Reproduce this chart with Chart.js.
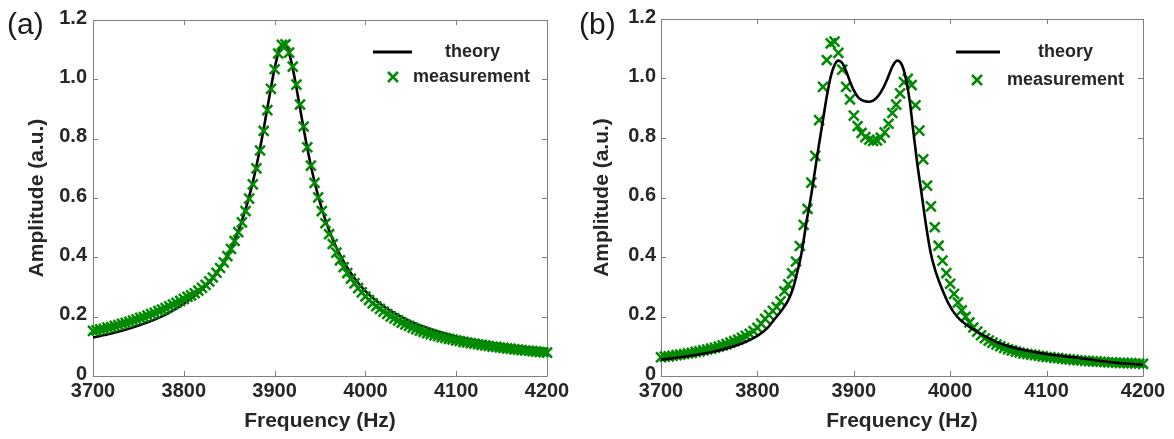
<!DOCTYPE html>
<html>
<head>
<meta charset="utf-8">
<script src="https://cdn.jsdelivr.net/npm/chart.js@4.4.1/dist/chart.umd.min.js"></script>
<style>
  html, body { margin: 0; padding: 0; background: #fff; }
  #wrap { position: relative; width: 1174px; height: 439px; overflow: hidden; }
  canvas { position: absolute; top: 0; }
  #chartA { left: 0; }
  #chartB { left: 580px; }
</style>
</head>
<body>
<div id="wrap">
  <canvas id="chartA" width="580" height="439"></canvas>
  <canvas id="chartB" width="594" height="439"></canvas>
</div>
<script>
// sweep frequencies of the measured points (Hz), same for both panels
const MEAS_FREQ = [
  3700,3704,3708,3712,3716,3720,3724,3728,3732,3736,
  3740,3744,3748,3752,3756,3760,3764,3768,3772,3776,
  3780,3784,3788,3792,3796,3800,3804,3808,3812,3816,
  3820,3824,3828,3832,3836,3840,3844,3848,3852,3856,
  3860,3864,3868,3872,3876,3880,3884,3888,3892,3896,
  3900,3904,3908,3912,3916,3920,3924,3928,3932,3936,
  3940,3944,3948,3952,3956,3960,3964,3968,3972,3976,
  3980,3984,3988,3992,3996,4000,4004,4008,4012,4016,
  4020,4024,4028,4032,4036,4040,4044,4048,4052,4056,
  4060,4064,4068,4072,4076,4080,4084,4088,4092,4096,
  4100,4104,4108,4112,4116,4120,4124,4128,4132,4136,
  4140,4144,4148,4152,4156,4160,4164,4168,4172,4176,
  4180,4184,4188,4192,4196,4200
];

// (a) single resonance
const MEAS_A = [
  0.152,0.154,0.157,0.159,0.163,0.165,0.169,0.172,0.176,0.179,
  0.183,0.187,0.191,0.196,0.199,0.204,0.209,0.213,0.219,0.224,
  0.229,0.235,0.241,0.247,0.253,0.260,0.267,0.272,0.279,0.288,
  0.297,0.307,0.319,0.332,0.348,0.364,0.383,0.404,0.428,0.455,
  0.485,0.518,0.556,0.598,0.646,0.700,0.760,0.826,0.896,0.968,
  1.034,1.087,1.116,1.118,1.090,1.043,0.982,0.915,0.841,0.771,
  0.709,0.651,0.602,0.556,0.515,0.478,0.445,0.416,0.390,0.367,
  0.347,0.328,0.312,0.296,0.282,0.268,0.256,0.245,0.235,0.226,
  0.217,0.209,0.201,0.194,0.187,0.180,0.174,0.169,0.163,0.158,
  0.153,0.149,0.144,0.141,0.137,0.134,0.131,0.128,0.125,0.123,
  0.120,0.118,0.115,0.113,0.111,0.109,0.107,0.105,0.103,0.101,
  0.099,0.098,0.096,0.095,0.093,0.092,0.090,0.089,0.087,0.086,
  0.085,0.084,0.082,0.081,0.080,0.079
];
const THEORY_A_FREQ = [
  3700,3720,3740,3760,3780,3800,3815,3830,3840,3850,3860,3865,3870,3875,3880,
  3885,3890,3895,3900,3905,3910,3915,3920,3925,3930,3935,3940,3945,3950,3955,
  3960,3970,3980,3990,4000,4015,4030,4050,4075,4100,4125,4150,4175,4200
];
const THEORY_A = [
  0.130,0.143,0.160,0.181,0.207,0.244,0.278,0.322,0.362,0.416,0.488,0.533,0.583,0.641,0.708,
  0.784,0.868,0.955,1.037,1.098,1.120,1.098,1.037,0.955,0.868,0.784,0.709,0.642,0.585,0.535,
  0.491,0.420,0.365,0.322,0.286,0.246,0.215,0.183,0.155,0.133,0.118,0.106,0.097,0.091
];

// (b) split resonance
const MEAS_B = [
  0.063,0.065,0.066,0.068,0.070,0.072,0.074,0.076,0.078,0.081,
  0.083,0.086,0.089,0.092,0.095,0.099,0.103,0.107,0.112,0.117,
  0.122,0.128,0.135,0.142,0.151,0.162,0.176,0.192,0.205,0.219,
  0.232,0.251,0.285,0.308,0.345,0.385,0.437,0.508,0.562,0.650,
  0.740,0.860,0.972,1.062,1.118,1.124,1.086,1.030,0.972,0.930,
  0.875,0.840,0.817,0.803,0.794,0.790,0.792,0.801,0.819,0.848,
  0.884,0.912,0.950,0.988,0.999,0.978,0.910,0.825,0.728,0.640,
  0.570,0.500,0.438,0.388,0.346,0.310,0.276,0.247,0.221,0.199,
  0.180,0.163,0.149,0.137,0.127,0.119,0.112,0.106,0.100,0.094,
  0.090,0.086,0.082,0.079,0.076,0.074,0.072,0.070,0.068,0.066,
  0.064,0.063,0.061,0.060,0.058,0.057,0.056,0.054,0.053,0.052,
  0.051,0.050,0.049,0.049,0.048,0.047,0.046,0.046,0.045,0.044,
  0.044,0.043,0.043,0.042,0.042,0.041
];
const THEORY_B_FREQ = [
  3700,3720,3740,3760,3780,3800,3810,3817,3825,3832,3837,3841,3845,3848,3851,3855,
  3859,3863,3868,3872,3876,3880,3884,3888,3892,3896,3900,3905,3910,3915,3920,3925,
  3930,3935,3940,3945,3950,3954,3958,3962,3966,3970,3975,3980,3985,3990,3998,4007,
  4020,4030,4050,4075,4100,4130,4165,4200
];
const THEORY_B = [
  0.055,0.063,0.073,0.086,0.105,0.135,0.160,0.188,0.220,0.255,0.295,0.345,0.400,0.457,0.520,0.592,
  0.675,0.760,0.860,0.940,1.005,1.045,1.060,1.052,1.025,0.990,0.960,0.935,0.925,0.922,0.926,0.940,
  0.965,1.000,1.040,1.060,1.045,1.000,0.925,0.815,0.710,0.620,0.505,0.410,0.350,0.305,0.245,0.200,
  0.165,0.145,0.112,0.088,0.074,0.062,0.047,0.037
];

const X_TICKS = [3700, 3800, 3900, 4000, 4100, 4200];
const Y_TICKS = [0, 0.2, 0.4, 0.6, 0.8, 1.0, 1.2];
const SERIES = ['theory', 'measurement'];
const X_TITLE = 'Frequency (Hz)';
const Y_TITLE = 'Amplitude (a.u.)';

const GREEN = '#008a00';
const TEXT = '#262626';
const FAMILY = '"Liberation Sans", Arial, Helvetica, sans-serif';
const H = 439;

// frame with inward ticks on all four sides, panel letter and in-plot legend
const panelDecor = {
  id: 'panelDecor',
  beforeDatasetsDraw(chart, args, o) {
    const {ctx, chartArea: a, scales: {x, y}} = chart;
    ctx.save();
    ctx.strokeStyle = '#7f7f7f';
    ctx.lineWidth = 1;
    ctx.beginPath();
    ctx.rect(a.left + 0.5, a.top + 0.5, a.right - a.left, a.bottom - a.top);
    x.ticks.forEach(t => {
      const px = Math.round(x.getPixelForValue(t.value)) + 0.5;
      ctx.moveTo(px, a.bottom); ctx.lineTo(px, a.bottom - 5);
      ctx.moveTo(px, a.top); ctx.lineTo(px, a.top + 5);
    });
    y.ticks.forEach(t => {
      const py = Math.round(y.getPixelForValue(t.value)) + 0.5;
      ctx.moveTo(a.left, py); ctx.lineTo(a.left + 5, py);
      ctx.moveTo(a.right, py); ctx.lineTo(a.right - 5, py);
    });
    ctx.stroke();
    ctx.restore();
  },
  afterDraw(chart, args, o) {
    const ctx = chart.ctx;
    const ds = chart.data.datasets;
    ctx.save();
    ctx.fillStyle = '#1a1a1a';
    ctx.font = '30px ' + FAMILY;
    ctx.textBaseline = 'alphabetic';
    ctx.fillText(o.name, o.nameX, 34);

    ctx.font = 'bold 18px ' + FAMILY;
    ctx.textBaseline = 'middle';
    ctx.fillStyle = TEXT;
    // theory row
    const L = o.line;
    ctx.strokeStyle = ds[0].borderColor;
    ctx.lineWidth = 3;
    ctx.beginPath();
    ctx.moveTo(L.x1, L.y); ctx.lineTo(L.x2, L.y);
    ctx.stroke();
    ctx.fillText(ds[0].label, L.tx, L.y);
    // measurement row
    const M = o.mark;
    const r = 5;
    ctx.strokeStyle = GREEN;
    ctx.lineWidth = 2.5;
    ctx.beginPath();
    ctx.moveTo(M.x - r, M.y - r); ctx.lineTo(M.x + r, M.y + r);
    ctx.moveTo(M.x - r, M.y + r); ctx.lineTo(M.x + r, M.y - r);
    ctx.stroke();
    ctx.fillText(ds[1].label, M.tx, M.y);
    ctx.restore();
  }
};

function makePanel(id, width, box, meas, thX, thY, decor, marksOnTop, yTitlePad) {
  const tickFont = {family: FAMILY, size: 20, weight: 'bold'};
  const titleFont = {family: FAMILY, size: 21, weight: 'bold'};
  return new Chart(document.getElementById(id), {
    type: 'scatter',
    data: {
      datasets: [
        {
          label: SERIES[0],
          data: thX.map((f, i) => ({x: f, y: thY[i]})),
          showLine: true,
          borderColor: '#000',
          borderWidth: 2.6,
          borderJoinStyle: 'round',
          pointRadius: 0,
          cubicInterpolationMode: 'monotone',
          order: marksOnTop ? 1 : 0
        },
        {
          label: SERIES[1],
          data: MEAS_FREQ.map((f, i) => ({x: f, y: meas[i]})),
          showLine: false,
          pointStyle: 'crossRot',
          pointRadius: 7,
          pointBorderWidth: 2.5,
          borderColor: GREEN,
          backgroundColor: GREEN,
          clip: false,
          order: marksOnTop ? 0 : 1
        }
      ]
    },
    options: {
      responsive: false,
      animation: false,
      devicePixelRatio: 1,
      events: [],
      layout: {padding: {left: 0, top: box.top, right: width - box.right, bottom: 0}},
      plugins: {
        legend: {display: false},
        tooltip: {enabled: false},
        panelDecor: decor
      },
      scales: {
        x: {
          type: 'linear', min: 3700, max: 4200,
          afterBuildTicks: s => { s.ticks = X_TICKS.map(v => ({value: v})); },
          afterFit: s => { s.height = H - box.bottom; },
          grid: {display: false, drawTicks: false},
          border: {display: false},
          ticks: {padding: 3, font: tickFont, color: TEXT, maxRotation: 0, autoSkip: false,
                  callback: v => String(v)},
          title: {display: true, text: X_TITLE, font: titleFont, color: TEXT,
                  padding: {top: 0, bottom: 5}}
        },
        y: {
          type: 'linear', min: 0, max: 1.2,
          afterBuildTicks: s => { s.ticks = Y_TICKS.map(v => ({value: v})); },
          afterFit: s => { s.width = box.left; },
          grid: {display: false, drawTicks: false},
          border: {display: false},
          ticks: {padding: box.labelGap, labelOffset: -2, font: tickFont, color: TEXT,
                  callback: v => (v === 0 ? '0' : v.toFixed(1))},
          title: {display: true, text: Y_TITLE, font: titleFont, color: TEXT,
                  padding: {top: yTitlePad, bottom: 0}}
        }
      }
    },
    plugins: [panelDecor]
  });
}

makePanel('chartA', 580, {left: 93, right: 547, top: 20, bottom: 376, labelGap: 6},
  MEAS_A, THEORY_A_FREQ, THEORY_A,
  {name: '(a)', nameX: 7,
   line: {x1: 373, x2: 412, y: 52, tx: 445},
   mark: {x: 393, y: 77, tx: 413}},
  true, 25);

makePanel('chartB', 594, {left: 81, right: 563, top: 19, bottom: 376, labelGap: 5},
  MEAS_B, THEORY_B_FREQ, THEORY_B,
  {name: '(b)', nameX: -1,
   line: {x1: 376, x2: 420, y: 52, tx: 458},
   mark: {x: 397, y: 80, tx: 427}},
  false, 10);
</script>
</body>
</html>
